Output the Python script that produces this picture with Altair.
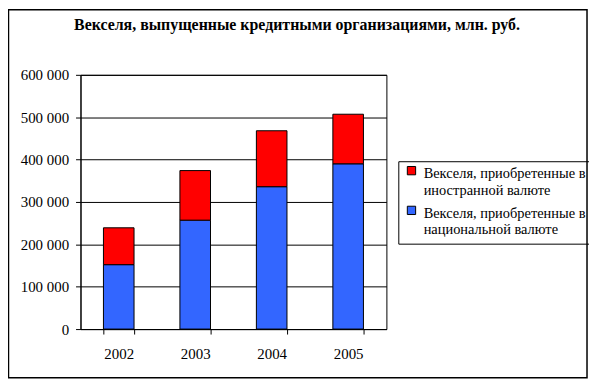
import altair as alt
import pandas as pd

years = ["2002", "2003", "2004", "2005"]
national = [152000, 257000, 336000, 390000]
foreign = [87000, 117000, 132000, 117000]
series = ["Векселя, приобретенные в|иностранной валюте",
          "Векселя, приобретенные в|национальной валюте"]
colors = ["#FF0000", "#3366FF"]
y_ticks = [0, 100000, 200000, 300000, 400000, 500000, 600000]

rows = []
for i, y in enumerate(years):
    rows.append({"year": y, "series": series[1], "value": national[i], "ord": 0})
    rows.append({"year": y, "series": series[0], "value": foreign[i], "ord": 1})
df = pd.DataFrame(rows)

FONT = "Liberation Serif"

bars = alt.Chart(df).mark_bar(stroke="black", strokeWidth=1).encode(
    x=alt.X("year:N", title=None,
            scale=alt.Scale(paddingInner=0.6, paddingOuter=0.3),
            axis=alt.Axis(labelAngle=0, tickBand="extent", tickSize=5,
                          labelPadding=13, domainColor="black", tickColor="black",
                          labelColor="black", labelFont=FONT, labelFontSize=15,
                          grid=False)),
    y=alt.Y("value:Q", title=None, stack="zero",
            scale=alt.Scale(domain=[0, 600000], nice=False),
            axis=alt.Axis(values=y_ticks, tickSize=5, labelPadding=7,
                          labelExpr="replace(format(datum.value, ','), ',', ' ')",
                          domainColor="black", tickColor="black", gridColor="black",
                          gridOpacity=1, gridWidth=1, labelColor="black",
                          labelFont=FONT, labelFontSize=15)),
    color=alt.Color("series:N", scale=alt.Scale(domain=series, range=colors),
                    legend=alt.Legend(title=None, orient="none", legendX=320, legendY=87,
                                      labelExpr="split(datum.label, '|')",
                                      symbolType="M-1,-1.9H1V0.1H-1Z", symbolSize=70,
                                      symbolStrokeColor="black", symbolStrokeWidth=1,
                                      labelFont=FONT, labelFontSize=14.5, labelColor="black",
                                      labelLimit=300, padding=6, strokeColor="black",
                                      rowPadding=6, labelOffset=5)),
    order=alt.Order("ord:Q"),
)

frame = alt.Chart(pd.DataFrame({"a": [0]})).mark_rect(
    fill=None, stroke="black", strokeWidth=1.5).encode(
    x=alt.value(-72.5), x2=alt.value(510), y=alt.value(-65.5), y2=alt.value(305))

chart = alt.layer(frame, bars).properties(
    width=308, height=256,
    title=alt.TitleParams("Векселя, выпущенные кредитными организациями, млн. руб.",
                          font=FONT, fontSize=16, fontWeight="bold", color="black",
                          anchor="middle", dx=64, offset=-24),
    autosize=alt.AutoSizeParams(type="none"),
    padding={"left": 73, "top": 66, "right": 204, "bottom": 51},
).configure_view(stroke="black", strokeWidth=1)

chart.save("out.html", embed_options={"renderer": "svg", "actions": False})
